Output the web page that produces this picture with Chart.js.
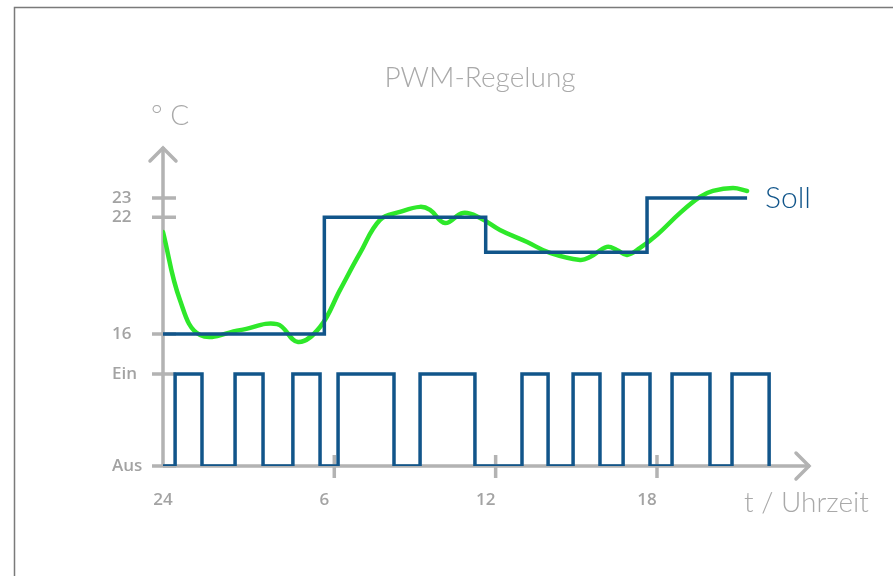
<!DOCTYPE html>
<html>
<head>
<meta charset="utf-8">
<script src="https://cdn.jsdelivr.net/npm/chart.js@4/dist/chart.umd.min.js"></script>
<style>
    html, body { margin: 0; padding: 0; background: #fff; }
    #wrap { width: 893px; height: 576px; position: relative; }
</style>
</head>
<body>
<div id="wrap"><canvas id="pwmChart"></canvas></div>
<script>
// Daten (Stunden ab 24 Uhr)
const zeitTicks = [0, 6, 12, 18];
const zeitLabels = ["24", "6", "12", "18"];

// Soll-Temperatur: Stufen
const sollZeiten = [0, 6, 12, 18, 21.72];
const sollWerte = [16, 22, 20.2, 23, 23];

// Ist-Temperatur (grün)
const istZeiten = [0, 0.63, 1.38, 2.86, 4.24, 5.02, 5.84, 6.58, 7.33, 8.07, 8.81, 9.56, 9.93, 10.49, 11.16, 11.79, 12.53, 13.54, 14.39, 15.51, 15.88, 16.51, 16.88, 17.26, 17.74, 18.37, 19.23, 19.97, 20.45, 21.2, 21.72];
const istWerte = [21.25, 17.75, 15.95, 16.2, 16.51, 15.59, 16.36, 18.26, 20.17, 21.87, 22.28, 22.54, 22.38, 21.71, 22.23, 21.97, 21.35, 20.73, 20.17, 19.81, 19.96, 20.48, 20.32, 20.07, 20.43, 21.1, 22.23, 23.05, 23.36, 23.51, 23.36];

// PWM: Einschaltzeiten und Ausschaltzeiten
const pwmEin = [0.45, 2.68, 4.83, 6.51, 9.56, 13.35, 15.25, 17.11, 18.93, 21.16];
const pwmAus = [1.45, 3.72, 5.84, 8.59, 11.6, 14.32, 16.25, 18.11, 20.34, 22.54];

// Temperatur-Achse
const tempTicks = [16, 22, 23];
// Lage von "Aus" / "Ein" auf der Achse
const PWM_AUS = 9.21;
const PWM_EIN = 13.94;

const BLAU = "#11558a";
const GRUEN = "#2ee82a";
const GRAU = "#b3b3b3";

function pwmPunkte() {
    const pts = [{ x: 0, y: PWM_AUS }];
    pwmEin.forEach((ein, i) => {
        pts.push({ x: ein, y: PWM_AUS });
        pts.push({ x: ein, y: PWM_EIN });
        pts.push({ x: pwmAus[i], y: PWM_EIN });
        pts.push({ x: pwmAus[i], y: PWM_AUS });
    });
    return pts;
}

// Achsen, Pfeile, Texte
const deko = {
    id: "deko",
    beforeDraw(chart) {
        const ctx = chart.ctx;
        ctx.save();
        ctx.strokeStyle = "#7a7a7a";
        ctx.lineWidth = 1.5;
        ctx.beginPath();
        ctx.moveTo(14.5, 576);
        ctx.lineTo(14.5, 7.5);
        ctx.lineTo(893, 7.5);
        ctx.stroke();
        ctx.restore();
    },
    beforeDatasetsDraw(chart) {
        const ctx = chart.ctx;
        const a = chart.chartArea;
        const x = chart.scales.x, y = chart.scales.y;
        ctx.save();
        ctx.strokeStyle = GRAU;
        ctx.lineWidth = 3.5;
        ctx.lineCap = "butt";
        ctx.beginPath();
        ctx.moveTo(a.left, a.bottom);
        ctx.lineTo(a.left, a.top);
        ctx.moveTo(a.left, a.bottom);
        ctx.lineTo(a.right, a.bottom);
        ctx.stroke();
        // Pfeile
        ctx.lineCap = "round";
        ctx.lineJoin = "miter";
        ctx.beginPath();
        ctx.moveTo(a.left - 13, a.top + 14);
        ctx.lineTo(a.left, a.top + 1);
        ctx.lineTo(a.left + 13, a.top + 14);
        ctx.moveTo(a.right - 14, a.bottom - 13);
        ctx.lineTo(a.right - 1, a.bottom);
        ctx.lineTo(a.right - 14, a.bottom + 13);
        ctx.stroke();
        // Striche an der y-Achse
        ctx.lineCap = "butt";
        ctx.beginPath();
        y.ticks.forEach(t => {
            const py = y.getPixelForValue(t.value);
            ctx.moveTo(a.left - 11, py);
            ctx.lineTo(a.left + 13, py);
        });
        // Striche an der x-Achse
        x.ticks.forEach(t => {
            if (t.value === 0) return;
            const px = x.getPixelForValue(t.value + 0.37);
            ctx.moveTo(px, a.bottom - 11);
            ctx.lineTo(px, a.bottom + 12);
        });
        ctx.stroke();
        ctx.restore();
    },
    afterDraw(chart) {
        const ctx = chart.ctx;
        ctx.save();
        ctx.textBaseline = "middle";
        ctx.font = "300 28px Lato";
        ctx.fillStyle = "#a9a9a9";
        ctx.textAlign = "center";
        ctx.fillText("PWM-Regelung", 480, 78);
        ctx.textAlign = "left";
        ctx.fillText("° C", 151, 116);
        ctx.fillText("t / Uhrzeit", 744, 503);
        ctx.fillStyle = BLAU;
        ctx.font = "300 30px Lato";
        ctx.fillText("Soll", 765, 198);
        ctx.restore();
    }
};

document.addEventListener("DOMContentLoaded", function() {
    const ctx = document.getElementById("pwmChart");
    new Chart(ctx, {
        type: "line",
        data: {
            datasets: [
                {
                    label: "PWM",
                    data: pwmPunkte(),
                    borderColor: BLAU,
                    borderWidth: 3.5,
                    borderJoinStyle: "miter",
                    pointRadius: 0,
                    tension: 0
                },
                {
                    label: "Soll",
                    data: sollZeiten.map((t, i) => ({ x: t, y: sollWerte[i] })),
                    borderColor: BLAU,
                    borderWidth: 3.5,
                    borderJoinStyle: "miter",
                    stepped: "before",
                    pointRadius: 0
                },
                {
                    label: "Ist",
                    data: istZeiten.map((t, i) => ({ x: t, y: istWerte[i] })),
                    borderColor: GRUEN,
                    borderWidth: 4.5,
                    borderCapStyle: "round",
                    pointRadius: 0,
                    tension: 0.4
                }
            ]
        },
        options: {
            responsive: true,
            maintainAspectRatio: false,
            animation: false,
            layout: { padding: { left: 112, right: 83, top: 147, bottom: 70 } },
            plugins: {
                legend: { display: false },
                tooltip: { enabled: false },
                title: { display: false }
            },
            scales: {
                x: {
                    type: "linear",
                    min: 0,
                    max: 24.06,
                    grid: { display: false, drawTicks: false },
                    border: { display: false },
                    afterBuildTicks: scale => {
                        scale.ticks = zeitTicks.map(v => ({ value: v }));
                    },
                    afterFit: scale => { scale.height = 40; },
                    ticks: {
                        padding: 24,
                        maxRotation: 0,
                        autoSkip: false,
                        color: "#a3a3a3",
                        font: { family: "Open Sans", size: 17, weight: 600 },
                        callback: (v) => zeitLabels[zeitTicks.indexOf(v)]
                    }
                },
                y: {
                    type: "linear",
                    min: PWM_AUS,
                    max: 25.62,
                    grid: { display: false, drawTicks: false },
                    border: { display: false },
                    afterBuildTicks: scale => {
                        scale.ticks = [PWM_AUS, PWM_EIN].concat(tempTicks).map(v => ({ value: v }));
                    },
                    afterFit: scale => { scale.width = 51; },
                    ticks: {
                        crossAlign: "far",
                        padding: 0,
                        autoSkip: false,
                        color: "#a3a3a3",
                        font: { family: "Open Sans", size: 17, weight: 600 },
                        callback: (v) => {
                            if (v === PWM_AUS) return "Aus";
                            if (v === PWM_EIN) return "Ein";
                            return String(v);
                        }
                    }
                }
            }
        },
        plugins: [deko]
    });
});
</script>
</body>
</html>
